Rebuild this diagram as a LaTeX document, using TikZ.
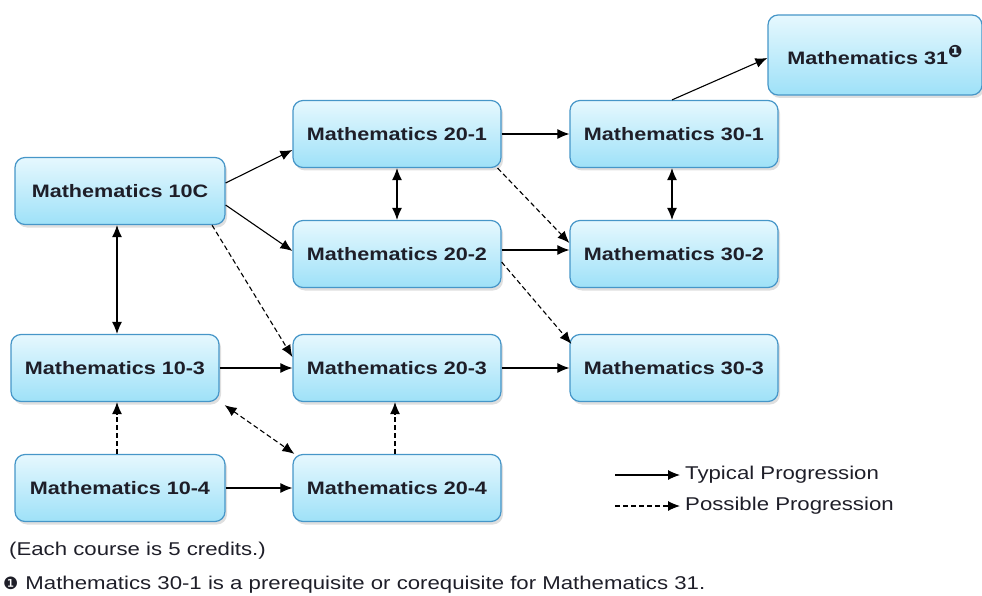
\documentclass[tikz,border=0pt]{standalone}
\usepackage{fontspec}
\setmainfont[FakeStretch=1.2]{Liberation Sans}
\newfontfamily\dingfont{DejaVu Sans}
\usetikzlibrary{arrows.meta, positioning, shadows, calc}
\definecolor{BoxEdge}{RGB}{70,150,200}
\definecolor{BoxTop}{RGB}{230,248,254}
\definecolor{BoxBottom}{RGB}{158,225,248}
\definecolor{TextDark}{RGB}{30,30,40}

\begin{document}
\begin{tikzpicture}[x=1pt, y=-1pt,
    course/.style={draw=BoxEdge, line width=1.2pt, rounded corners=10pt,
      top color=BoxTop, bottom color=BoxBottom,
      minimum width=208pt, minimum height=67pt, inner sep=2pt,
      font=\fontsize{18}{20}\selectfont\bfseries, text=TextDark,
      drop shadow={shadow xshift=2pt, shadow yshift=-3pt, opacity=0.25}},
    typical/.style={-{Latex[length=12pt,width=10pt]}, line width=1.1pt},
    possible/.style={typical, dash pattern=on 5pt off 3pt},
    twoway/.style={{Latex[length=12pt,width=10pt]}-{Latex[length=12pt,width=10pt]}},
    legendtext/.style={anchor=west, inner sep=2pt, text=TextDark,
      font=\fontsize{18.5}{20}\selectfont}]
  \useasboundingbox (0,0) rectangle (982,596);

  % courses
  \node[course, minimum width=210pt] (m10c) at (120,191) {Mathematics 10C};
  \node[course] (m103) at (115,368) {Mathematics 10-3};
  \node[course, minimum width=210pt] (m104) at (120,488) {Mathematics 10-4};
  \node[course] (m201) at (397,134) {Mathematics 20-1};
  \node[course] (m202) at (397,254) {Mathematics 20-2};
  \node[course] (m203) at (397,368) {Mathematics 20-3};
  \node[course] (m204) at (397,488) {Mathematics 20-4};
  \node[course] (m301) at (674,134) {Mathematics 30-1};
  \node[course] (m302) at (674,254) {Mathematics 30-2};
  \node[course] (m303) at (674,368) {Mathematics 30-3};
  \node[course, minimum width=214pt, minimum height=80pt] (m31) at (875,55)
    {Mathematics 31\raisebox{7pt}{\fontsize{17}{17}\selectfont\dingfont ❶}};

  % progressions
  \draw[typical] ([yshift=8pt]m10c.east) -- ([yshift=-16pt]m201.west);
  \draw[typical] ([yshift=-14pt]m10c.east) -- ([yshift=3pt]m202.west);
  \draw[possible] ([xshift=92pt]m10c.south) -- ([yshift=11pt]m203.west);
  \draw[typical, twoway] ([xshift=-3pt]m10c.south) -- ([xshift=2pt]m103.north);
  \draw[typical, twoway] (m201.south) -- (m202.north);
  \draw[typical] (m201.east) -- (m301.west);
  \draw[possible] ([xshift=-4pt]m201.south east) -- ([yshift=11pt]m302.west);
  \draw[typical] ([yshift=4pt]m202.east) -- ([yshift=4pt]m302.west);
  \draw[possible] ([yshift=-8pt]m202.east) -- ([xshift=2pt,yshift=-10pt]m303.north west);
  \draw[typical, twoway] ([xshift=-2pt]m301.south) -- ([xshift=-2pt]m302.north);
  \draw[typical] ([xshift=-2pt]m301.north) -- ([yshift=-3pt]m31.west);
  \draw[typical] (m103.east) -- (m203.west);
  \draw[typical] (m203.east) -- (m303.west);
  \draw[possible] ([xshift=-3pt]m104.north) -- ([xshift=2pt]m103.south);
  \draw[possible, twoway] ([xshift=5pt,yshift=-3pt]m103.south east) -- ([xshift=2pt]m204.north west);
  \draw[possible] ([xshift=-2pt]m204.north) -- ([xshift=-2pt]m203.south);
  \draw[typical] (m104.east) -- (m204.west);

  % legend
  \coordinate (legtypstart) at (615,475);
  \coordinate (legposstart) at (615,506);
  \node[legendtext] (legtyp) at (683,475) {Typical Progression};
  \node[legendtext] (legpos) at (683,506) {Possible Progression};
  \draw[typical, shorten >=3pt] (legtypstart) -- (legtyp.west);
  \draw[possible, shorten >=3pt] (legposstart) -- (legpos.west);

  % notes
  \node[legendtext] (credits) at (7,551) {(Each course is 5 credits.)};
  \node[legendtext] (prereq) at (1,585)
    {{\fontsize{17}{17}\selectfont\dingfont ❶}\hspace{7pt}Mathematics 30-1 is a prerequisite or corequisite for Mathematics 31.};
\end{tikzpicture}
\end{document}
